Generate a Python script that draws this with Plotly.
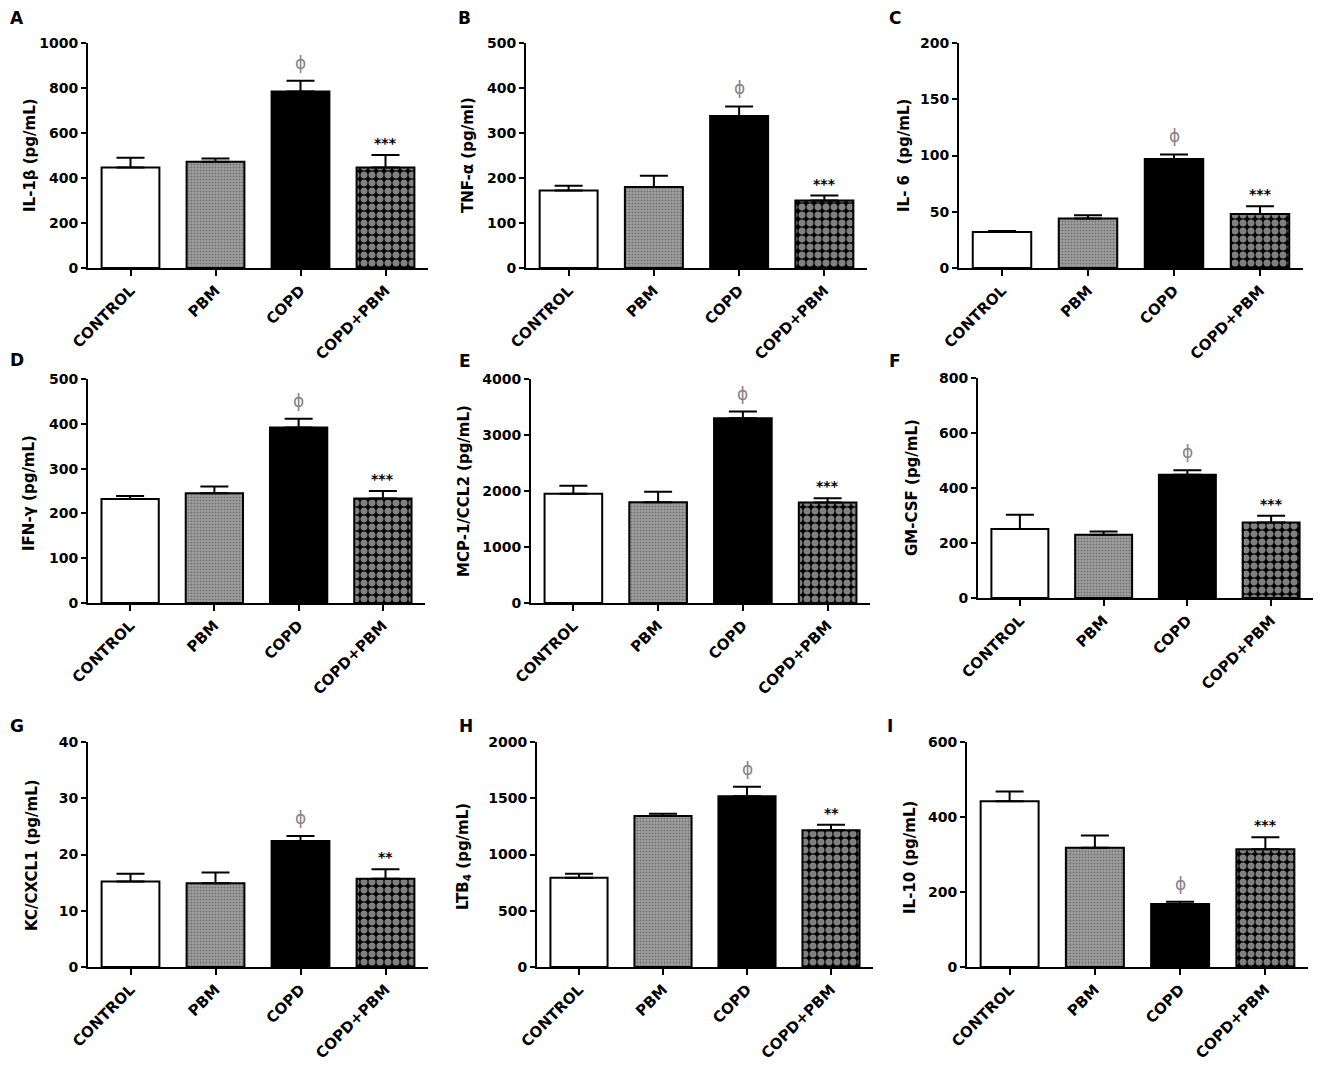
import plotly.graph_objects as go

W, H = 1325, 1069
PAD = 8                      # default page margin around the figure div
FW, FH = W - 2 * PAD, H - 2 * PAD

categories = ["CONTROL", "PBM", "COPD", "COPD+PBM"]

# values (mean) and upper SEM for each panel
il1b = [447, 472, 784, 447]
il1b_err = [43, 15, 48, 55]
tnfa = [172, 180, 338, 150]
tnfa_err = [11, 25, 21, 11]
il6 = [32, 44, 97, 48]
il6_err = [1, 3, 4, 7]
ifng = [232, 245, 392, 233]
ifng_err = [7, 15, 19, 17]
mcp1 = [1950, 1801, 3299, 1795]
mcp1_err = [142, 184, 119, 77]
gmcsf = [251, 230, 448, 275]
gmcsf_err = [52, 12, 17, 24]
kc = [15.2, 14.9, 22.4, 15.7]
kc_err = [1.4, 1.9, 0.9, 1.7]
ltb4 = [794, 1342, 1517, 1215]
ltb4_err = [36, 21, 86, 50]
il10 = [442, 318, 168, 314]
il10_err = [26, 33, 6, 32]

titles = ["IL-1β (pg/mL)", "TNF-α (pg/ml)", "IL- 6  (pg/mL)",
          "IFN-γ (pg/mL)", "MCP-1/CCL2 (pg/mL)", "GM-CSF (pg/mL)",
          "KC/CXCL1 (pg/mL)", "LTB<sub>4</sub> (pg/mL)", "IL-10 (pg/mL)"]
letters = ["A", "B", "C", "D", "E", "F", "G", "H", "I"]
ymax = [1000, 500, 200, 500, 4000, 800, 40, 2000, 600]
dticks = [200, 100, 50, 100, 1000, 200, 10, 500, 200]
stars = ["***", "***", "***", "***", "***", "***", "**", "**", "***"]

values = [il1b, tnfa, il6, ifng, mcp1, gmcsf, kc, ltb4, il10]
errors = [il1b_err, tnfa_err, il6_err, ifng_err, mcp1_err, gmcsf_err, kc_err, ltb4_err, il10_err]

# layout (pixel boxes in page coordinates)
xbox = [(88, 428), (526, 867), (959, 1303),
        (88, 425), (531, 870), (978, 1313),
        (88, 428), (537, 873), (967, 1308)]
ybox = [(43, 268), (43, 268), (43, 268),
        (379, 603), (379, 603), (378, 598),
        (742, 967), (742, 967), (742, 967)]
title_pos = [(30, 155), (468, 155), (904, 156),
             (29, 493), (464, 491), (912, 488),
             (32, 855), (463, 857), (910, 858)]
letter_pos = [(17, 18), (465, 18), (895, 18),
              (17, 360), (465, 361), (895, 361),
              (17, 726), (466, 726), (890, 726)]


def px(x):
    return (x - PAD) / FW


def py(y):
    return 1 - (y - PAD) / FH


FONT = "DejaVu Sans, Verdana, sans-serif"

fig = go.Figure()
annotations = []

for i in range(9):
    ax = "" if i == 0 else str(i + 1)
    xa, ya = "x" + ax, "y" + ax
    fig.add_trace(go.Bar(
        x=categories, y=values[i], xaxis=xa, yaxis=ya,
        marker=dict(
            color=["white", "#a0a0a0", "black", "black"],
            line=dict(color="black", width=2),
            pattern=dict(
                shape=["", ".", "", "."],
                fgcolor=["white", "#555555", "black", "white"],
                bgcolor=["white", "#b0b0b0", "black", "black"],
                size=[6, 3, 6, 8],
                solidity=[0.3, 0.35, 0.3, 0.6],
            ),
        ),
        error_y=dict(type="data", array=errors[i], arrayminus=[0] * 4,
                     symmetric=False, color="black", thickness=2, width=14),
        showlegend=False, hoverinfo="skip",
    ))
    x0, x1 = xbox[i]
    y0, y1 = ybox[i]
    fig.layout["xaxis" + ax] = dict(
        domain=[px(x0), px(x1)], anchor=ya, range=[-0.5, 3.5],
        showline=True, linecolor="black", linewidth=2,
        ticks="outside", ticklen=6, tickwidth=2, tickcolor="black",
        tickangle=-45, showgrid=False, zeroline=False, automargin=False,
        tickfont=dict(family=FONT, size=15, color="black", weight="bold"),
    )
    fig.layout["yaxis" + ax] = dict(
        domain=[py(y1), py(y0)], anchor=xa, range=[0, ymax[i]],
        dtick=dticks[i], tick0=0,
        showline=True, linecolor="black", linewidth=2,
        ticks="outside", ticklen=5, tickwidth=2, tickcolor="black",
        showgrid=False, zeroline=False, automargin=False,
        tickfont=dict(family=FONT, size=14, color="black", weight="bold"),
    )
    # y-axis title
    tx, ty = title_pos[i]
    annotations.append(dict(
        x=px(tx), y=py(ty), xref="paper", yref="paper", text=titles[i],
        textangle=-90, showarrow=False, xanchor="center", yanchor="middle",
        font=dict(family=FONT, size=15, color="black", weight="bold")))
    # panel letter
    lx, ly = letter_pos[i]
    annotations.append(dict(
        x=px(lx), y=py(ly), xref="paper", yref="paper", text=letters[i],
        showarrow=False, xanchor="center", yanchor="middle",
        font=dict(family=FONT, size=17, color="black", weight="bold")))
    # significance marks
    annotations.append(dict(
        x="COPD", y=values[i][2] + errors[i][2], xref=xa, yref=ya, text="ϕ",
        showarrow=False, yanchor="bottom", yshift=6,
        font=dict(family="DejaVu Sans", size=17, color="#8a8288")))
    annotations.append(dict(
        x="COPD+PBM", y=values[i][3] + errors[i][3], xref=xa, yref=ya, text=stars[i],
        showarrow=False, yanchor="bottom", yshift=2,
        font=dict(family=FONT, size=14, color="black", weight="bold")))

fig.update_layout(
    width=FW, height=FH, margin=dict(l=0, r=0, t=0, b=0, pad=0),
    paper_bgcolor="white", plot_bgcolor="white",
    bargap=0.32, annotations=annotations, showlegend=False,
)

fig.write_html("out.html")
